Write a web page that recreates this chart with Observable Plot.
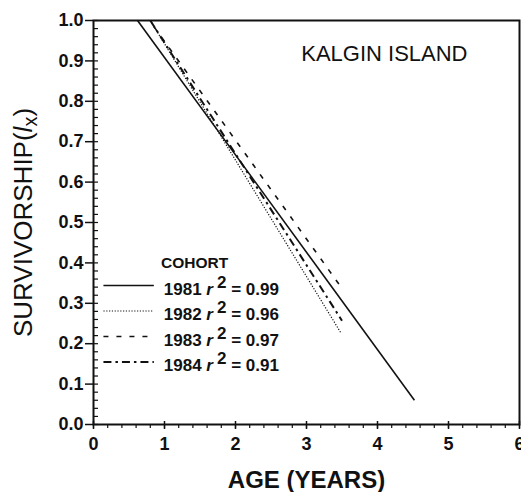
<!DOCTYPE html>
<html><head><meta charset="utf-8">
<script src="https://cdn.jsdelivr.net/npm/d3@7"></script>
<script src="https://cdn.jsdelivr.net/npm/@observablehq/plot@0.6"></script>
<style>
body{margin:0;background:#fff}
svg{font-family:"Liberation Sans",Arial,Helvetica,sans-serif}
</style>
</head><body><div id="chart"></div>
<script>
// ---- data ----
const cohorts  = ["1981", "1982", "1983", "1984"];
const r2       = ["0.99", "0.96", "0.97", "0.91"];
const startAge = [0.62, 0.80, 0.85, 0.80];
const startLx  = [1.00, 1.00, 0.985, 1.00];
const endAge   = [4.52, 3.48, 3.50, 3.50];
const endLx    = [0.06, 0.228, 0.337, 0.257];
const xTicks   = [0, 1, 2, 3, 4, 5, 6];
const xMinor   = d3.range(0, 6.001, 0.2);
const yTicks   = [0, 0.1, 0.2, 0.3, 0.4, 0.5, 0.6, 0.7, 0.8, 0.9, 1.0];
const yMinor   = d3.range(0, 1.0001, 0.02);
const title    = "KALGIN ISLAND";
const xLabel   = "AGE (YEARS)";
const yLabel   = "SURVIVORSHIP(";

// ---- styles ----
const dashes = {"1981": null, "1982": "1.2,1.6", "1983": "5,8", "1984": "8,4,2.5,4"};
const widths = {"1981": 1.6, "1982": 1.2, "1983": 1.6, "1984": 2};

// rows
const lines = cohorts.flatMap((c, i) => [
  {cohort: c, age: startAge[i], lx: startLx[i]},
  {cohort: c, age: endAge[i], lx: endLx[i]}
]);

// legend layout (data space)
const legX0 = 0.14, legX1 = 0.85, legTextX = 0.99, legTop = 0.334, legStep = 0.063;
const legendRows = cohorts.map((c, i) => ({cohort: c, label: `${c}|${r2[i]}`, y: legTop - i * legStep}));
const legendLines = legendRows.flatMap(d => [
  {cohort: d.cohort, x: legX0, y: d.y + 0.01},
  {cohort: d.cohort, x: legX1, y: d.y + 0.01}
]);

const marks = [];
for (const c of cohorts) {
  marks.push(Plot.line(lines.filter(d => d.cohort === c), {
    x: "age", y: "lx", stroke: "#111", strokeWidth: widths[c],
    strokeDasharray: dashes[c], strokeLinecap: "butt"
  }));
  marks.push(Plot.line(legendLines.filter(d => d.cohort === c), {
    x: "x", y: "y", stroke: "#111", strokeWidth: widths[c],
    strokeDasharray: dashes[c], strokeLinecap: "butt"
  }));
}

const chart = Plot.plot({
  width: 521, height: 492,
  marginLeft: 93, marginRight: 2, marginTop: 20, marginBottom: 68,
  x: {domain: [0, 6]},
  y: {domain: [0, 1]},
  style: {fontFamily: '"Liberation Sans", Arial, sans-serif', background: "#fff", color: "#111"},
  marks: [
    Plot.axisY({ticks: yTicks, anchor: "left", tickSize: 8, tickPadding: 2, tickFormat: d3.format(".1f"),
      fontSize: 18, fontWeight: "bold", label: null, strokeWidth: 1.5}),
    Plot.axisY({ticks: yMinor, anchor: "left", tickSize: 5, dx: 5, text: null, label: null, strokeWidth: 1.2}),
    Plot.axisX({ticks: xTicks, anchor: "bottom", tickSize: 5, tickPadding: 8, tickFormat: d3.format("d"),
      fontSize: 18, fontWeight: "bold", label: null, strokeWidth: 1.5}),
    Plot.axisX({ticks: xTicks, anchor: "bottom", tickSize: 3, dy: -3, text: null, label: null, strokeWidth: 1.5}),
    Plot.axisX({ticks: xMinor, anchor: "bottom", tickSize: 4, text: null, label: null, strokeWidth: 1.2}),
    Plot.frame({stroke: "#111", strokeWidth: 2}),
    ...marks,
    Plot.text([title], {frameAnchor: "top-right", dx: -52, dy: 33, textAnchor: "end", lineAnchor: "middle",
      fontSize: 22, fill: "#111", text: d => d, letterSpacing: "1.1px"}),
    Plot.text(["COHORT"], {x: 0.95, y: 0.40, textAnchor: "start", lineAnchor: "middle",
      fontSize: 15.5, fontWeight: "bold", fill: "#111", text: d => d}),
    Plot.text(legendRows, {x: legTextX, y: "y", text: "label", textAnchor: "start", lineAnchor: "middle",
      fontSize: 17, fontWeight: "bold", fill: "#111", letterSpacing: "0.5px"}),
    Plot.text([xLabel], {frameAnchor: "bottom", dy: 56, textAnchor: "middle", lineAnchor: "middle", fontSize: 24,
      fontWeight: "bold", fill: "#111", text: d => d}),
    Plot.text([yLabel], {frameAnchor: "left", dx: -70, rotate: -90, textAnchor: "middle", lineAnchor: "middle",
      fontSize: 26, fill: "#111", text: d => d})
  ]
});

// rich text (italic / super- and subscripts)
d3.select(chart).selectAll("text").each(function () {
  const t = d3.select(this);
  const s = t.text();
  if (s.includes("|")) {
    const [yr, r] = s.split("|");
    t.text(null);
    t.append("tspan").text(yr + " ");
    t.append("tspan").attr("font-style", "italic").text("r");
    t.append("tspan").attr("dx", 4).attr("dy", -7).text("2");
    t.append("tspan").attr("dy", 7).text(" = " + r);
  } else if (s === yLabel) {
    t.text(null);
    t.append("tspan").text(yLabel);
    t.append("tspan").attr("font-style", "italic").text("l");
    t.append("tspan").attr("dy", 5).attr("font-size", 20).text("x");
    t.append("tspan").attr("dy", -5).text(")");
  }
});

document.getElementById("chart").appendChild(chart);
</script>
</body></html>
